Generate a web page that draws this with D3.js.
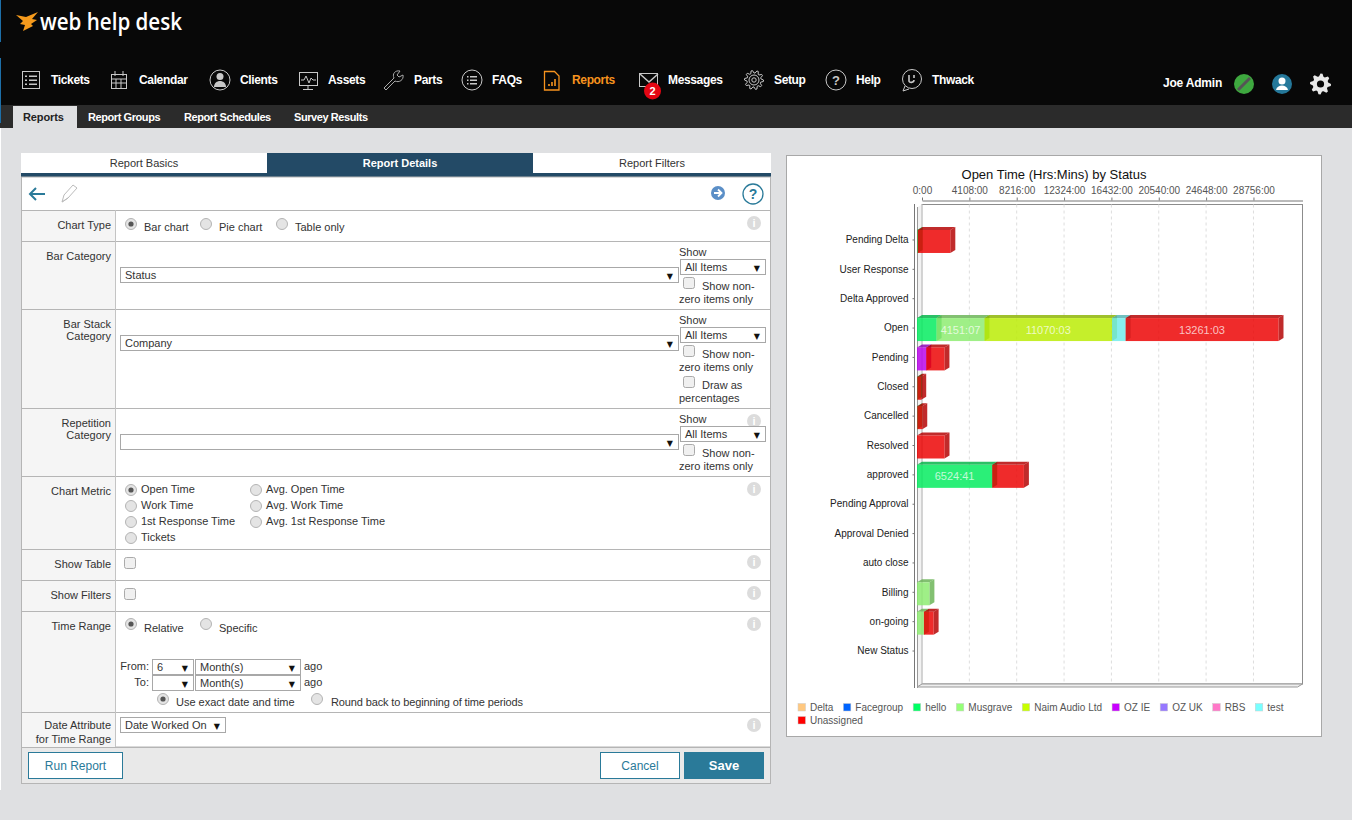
<!DOCTYPE html>
<html><head><meta charset="utf-8">
<script src="https://cdn.jsdelivr.net/npm/d3@7"></script>
<style>html,body{margin:0;padding:0;background:#dfe0e2;overflow:hidden}svg{display:block}text{font-family:"Liberation Sans",Arial,sans-serif}</style>
</head><body><svg id="s" width="1352" height="820"></svg>
<script>
// ---------- chart data (hours) ----------
const categories=["Pending Delta","User Response","Delta Approved","Open","Pending","Closed","Cancelled","Resolved","approved","Pending Approval","Approval Denied","auto close","Billing","on-going","New Status"];
const seriesNames=["Delta","Facegroup","hello","Musgrave","Naim Audio Ltd","OZ IE","OZ UK","RBS","test","Unassigned"];
const seriesColors=["#ffc880","#0064ff","#00ff64","#96ff78","#c8ff00","#c800ff","#9678ff","#ff78c8","#78ffff","#ff0000"];
const deltaValues=     [0,0,0,0,0,0,0,0,0,0,0,0,0,0,0];
const facegroupValues= [0,0,0,0,0,0,0,0,0,0,0,0,0,0,0];
const helloValues=     [60,0,0,1700,0,25,25,0,6524.68,0,0,0,0,0,0];
const musgraveValues=  [0,0,0,4151.12,0,0,0,0,0,0,0,0,1075,600,0];
const naimValues=      [0,0,0,11070.05,0,0,0,0,0,0,0,0,0,0,0];
const ozIeValues=      [0,0,0,0,800,0,0,0,0,0,0,0,0,0,0];
const ozUkValues=      [0,0,0,0,0,0,0,0,0,0,0,0,0,0,0];
const rbsValues=       [0,0,0,0,0,0,0,0,0,0,0,0,0,0,0];
const testValues=      [0,0,0,1180,0,0,0,0,0,0,0,0,0,0,0];
const unassignedValues=[2830,0,0,13261.05,1580,340,430,2385,2750,0,0,0,0,840,0];
const seriesValues=[deltaValues,facegroupValues,helloValues,musgraveValues,naimValues,ozIeValues,ozUkValues,rbsValues,testValues,unassignedValues];
const tickHours=[0,4108,8216,12324,16432,20540,24648,28756];
const chartTitle="Open Time (Hrs:Mins) by Status";

const svg=d3.select("#s");
const FS=11;
function R(x,y,w,h,f,st){return svg.append("rect").attr("x",x).attr("y",y).attr("width",w).attr("height",h).attr("fill",f||"none").attr("stroke",st||"none")}
function T(x,y,t,o={}){return svg.append("text").attr("x",x).attr("y",y).text(t).attr("font-size",o.s||FS).attr("font-weight",o.w||"normal").attr("fill",o.c||"#333").attr("text-anchor",o.a||"start").attr("letter-spacing",o.ls||null).style("font-family",o.f||null)}
function P(d,f,st,sw){return svg.append("path").attr("d",d).attr("fill",f||"none").attr("stroke",st||"none").attr("stroke-width",sw||1)}
function C(x,y,r,f,st,sw){return svg.append("circle").attr("cx",x).attr("cy",y).attr("r",r).attr("fill",f||"none").attr("stroke",st||"none").attr("stroke-width",sw||1)}
function gear(cx,cy,r,n,f,st){const pts=[];for(let i=0;i<n*4;i++){const a=i/(n*4)*2*Math.PI,q=i%4,rr=(q<2)?r:r*.74;pts.push([cx+rr*Math.cos(a),cy+rr*Math.sin(a)])}P("M"+pts.join("L")+"Z",f,st)}

// ---------- header ----------
R(0,0,1352,105,"#080808");R(0,105,1352,23,"#2b2b2b");
R(0,0,1,42,"#1d6fa8");R(0,58,1,65,"#1d6fa8");R(0,128,1,662,"#fff");
P("M16 15L26 17L38 12L32 19L37 20L31 24L33 26L23 31L25 25L20 24L23 21Z","#f59a1c");
T(40,30,"web help desk",{s:22.5,c:"#fff",w:600,f:"'Open Sans'"}).attr("textLength",142).attr("lengthAdjust","spacingAndGlyphs");
const ic="#c8c8c8";
[["Tickets",51],["Calendar",139],["Clients",240],["Assets",328],["Parts",414],["FAQs",492],["Reports",572],["Messages",668],["Setup",774],["Help",856],["Thwack",932]].forEach(([t,x])=>T(x,84,t,{s:12,w:"bold",c:t=="Reports"?"#f7931e":"#fff",ls:-.35}));
R(22.5,71.5,17,17,null,ic);[76,80,84].forEach(y=>{R(25,y-.5,2,1.5,ic);R(29,y-.5,8,1.5,ic)});
R(111.5,74.5,15,14,null,ic);P("M115 71v5M123 71v5M112 79h14M112 83h14M116 79v9M121 79v9",null,ic);
C(220,80,10,null,ic);C(220,76.5,3.5,ic);P("M214 87c0-8 12-8 12 0Z",ic);
R(299.5,72.5,18,13,null,ic);P("M301 80l3 0 2-4 3 7 2-5 2 2 3 0M308 86v3M303 89.5h10",null,ic);
P("M386 90l-2-2 10-10c-2-4 1-8 6-7l-3 4 2 2 4-2c1 5-4 8-8 6Z",null,"#aaa");
C(472,80,10,null,ic);[76.5,80,83.5].forEach(y=>{R(467,y-.5,1.5,1.5,ic);R(470,y-.5,7,1.5,ic)});
P("M544.5 71.5h10l4.5 4.5v14h-14.5Z",null,"#f7931e",1.3);P("M549 86v-2M552 86v-4M555 86v-7",null,"#f7931e",1.6);
R(639.5,73.5,18,13,null,ic);P("M640 74l9 8 9-8",null,ic,1.5);
C(652.5,91,8.5,"#e30613");T(652.5,95,"2",{s:11,w:"bold",c:"#fff",a:"middle"});
gear(754,80,9.5,10,"#080808",ic);C(754,80,5,null,ic);C(754,80,2.2,null,ic);
C(836,80,10,null,ic);T(836,85,"?",{s:13,w:"bold",c:ic,a:"middle"});
C(912,79,9.5,null,ic);P("M905 86l-2 5 6-2",null,ic);P("M909 75v6c0 2 5 2 5-1M914 75v3",null,ic,1.6);
T(1163,87,"Joe Admin",{s:12,w:"bold",c:"#fff",ls:-.2});
C(1244,84,10,"#3ea83f");P("M1238 90l12-12",null,"#555",3);
C(1282,84,10,"#25789a");C(1282,81,3.5,"#fff");P("M1276 90c1-6 11-6 12 0Z","#fff");
gear(1320.5,84,10.5,8,"#e8e8e8");C(1320.5,84,3.6,"#080808");
R(13,106,64,22,"#dfe0e2");
T(23,121,"Reports",{w:"bold",c:"#222",ls:-.1});
[["Report Groups",88],["Report Schedules",184],["Survey Results",294]].forEach(([t,x])=>T(x,121,t,{w:"bold",c:"#fff",ls:-.42}));

// ---------- form panel ----------
R(21,153,246,20,"#fff");R(533,153,238,20,"#fff");R(267,153,266,20,"#234a66");R(21,173,750,4,"#234a66");
T(144,167,"Report Basics",{a:"middle"});T(400,167,"Report Details",{a:"middle",w:"bold",c:"#fff"});T(652,167,"Report Filters",{a:"middle"});
R(21.5,177,749,570,"#fff","#b5b5b5");R(22,210,93,537,"#f5f5f5");
[210,241,309,408,476,549,580,611,712,747].forEach(y=>P(`M21 ${y+.5}H771`,null,"#b5b5b5"));
P("M115.5 210V747",null,"#c4c4c4");
P("M30 194H45M36 188l-6 6 6 6",null,"#2a7a99",2);
P("M62 202l2-7 9-10 4 3-9 10Z M62 202l6-4",null,"#bbb");
C(718,193,7,"#5b8fc7");P("M714 193h7M718 189.5l3.5 3.5-3.5 3.5",null,"#fff",1.8);
C(753,194,10,"#fff","#2a7a99",1.3);T(753,199,"?",{s:14,w:"bold",c:"#2a7a99",a:"middle"});
const info=y=>{C(754,y,7,"#dcdcdc");T(754,y+4,"i",{s:11,w:"bold",c:"#fff",a:"middle"})};
[223,421,489,562,593,624,725].forEach(info);
const lab=(y,t)=>T(111,y,t,{a:"end"});
lab(229,"Chart Type");lab(260,"Bar Category");lab(328,"Bar Stack");lab(340,"Category");lab(427,"Repetition");lab(439,"Category");lab(495,"Chart Metric");lab(568,"Show Table");lab(599,"Show Filters");lab(630,"Time Range");lab(729,"Date Attribute");lab(743,"for Time Range");
function radio(x,y,on){C(x,y,5.5,"#e4e4e4","#b4b4b4");if(on)C(x,y,2.6,"#555")}
function check(x,y){svg.append("rect").attr("x",x+.5).attr("y",y+.5).attr("width",11).attr("height",11).attr("rx",2).attr("fill","#f0f0f0").attr("stroke","#aaa")}
function sel(x,y,w,h,t){R(x+.5,y+.5,w,h,"#fff","#a8a8a8");if(t)T(x+5,y+h/2+4,t);T(x+w-5,y+h/2+4,"▼",{s:8,c:"#111",a:"end",f:"'DejaVu Sans'"})}
radio(131,224,1);T(144,231,"Bar chart");radio(206,224);T(219,231,"Pie chart");radio(282,224);T(295,231,"Table only");
function showBlock(y){T(679,y+4,"Show");sel(680,y+7,85,15,"All Items");check(683,y+25);T(702,y+38,"Show non-");T(679,y+51,"zero items only")}
sel(120,267,558,15,"Status");showBlock(252);
sel(120,335,558,15,"Company");showBlock(320);check(683,376);T(702,389,"Draw as");T(679,402,"percentages");
sel(120,434,558,15,"");showBlock(419);
[["Open Time",490,1],["Work Time",506],["1st Response Time",522],["Tickets",538]].forEach(([t,y,on])=>{radio(131,y,on);T(141,y+3,t)});
[["Avg. Open Time",490],["Avg. Work Time",506],["Avg. 1st Response Time",522]].forEach(([t,y])=>{radio(256,y);T(266,y+3,t)});
check(124,557);check(124,588);
radio(131,624,1);T(144,632,"Relative");radio(206,624);T(219,632,"Specific");
T(149,670,"From:",{a:"end"});sel(152,659,41,15,"6");sel(195,659,105,15,"Month(s)");T(304,670,"ago");
T(149,686,"To:",{a:"end"});sel(152,675,41,15,"");sel(195,675,105,15,"Month(s)");T(304,686,"ago");
radio(163,699,1);T(176,706,"Use exact date and time");radio(317,699);T(331,706,"Round back to beginning of time periods",{ls:-.13});
sel(120,717,105,15,"Date Worked On");
R(21.5,747.5,749,36,"#e9e9e9","#b5b5b5");
R(28.5,752.5,94,26,"#fff","#2a7a99");T(75.5,770,"Run Report",{s:12,c:"#2a7a99",a:"middle"});
R(600.5,752.5,79,26,"#fff","#2a7a99");T(640,770,"Cancel",{s:12,c:"#2a7a99",a:"middle"});
R(684,752,80,27,"#2a7a99");T(724,770,"Save",{s:13,w:"bold",c:"#fff",a:"middle"});

// ---------- chart ----------
R(786.5,155.5,535,581,"#fff","#a8a8a8");
const dx=5,dy=3;
const x=d3.scaleLinear().domain([0,33011]).range([922,1302.5]);
const y=d3.scaleBand().domain(categories).range([226.8,667.2]).paddingInner(.217).paddingOuter(.1085);
const plotTop=204.5,plotBot=684;
T(1054,179,chartTitle,{s:13,c:"#111",a:"middle"});
const g=svg.append("g");
// walls
g.append("path").attr("d",`M917 ${plotTop+3}L922 ${plotTop}V${plotBot}L917 ${plotBot+3}Z`).attr("fill","#f2f2f2");
g.append("rect").attr("x",922).attr("y",plotTop).attr("width",380.5).attr("height",plotBot-plotTop).attr("fill","#fff").attr("stroke","#8c8c8c");
g.append("line").attr("x1",922).attr("x2",922).attr("y1",plotTop).attr("y2",plotBot).attr("stroke","#e4e4e4");
g.append("path").attr("d",`M917 ${plotBot+3}L922 ${plotBot}H1302.5L1297.5 ${plotBot+3}Z`).attr("fill","#eee").attr("stroke","#999");
// grid
g.selectAll("line.grid").data(tickHours.slice(1)).join("line").attr("class","grid")
 .attr("x1",d=>x(d)).attr("x2",d=>x(d)).attr("y1",plotTop).attr("y2",plotBot)
 .attr("stroke","#ddd").attr("stroke-dasharray","3 3");
// top axis
const axT=d3.axisTop(x).tickValues(tickHours).tickFormat(d=>d+":00").tickSize(3).tickSizeOuter(0);
const gt=svg.append("g").attr("transform","translate(0,200.5)").call(axT);
gt.selectAll("text").attr("font-size",10).attr("fill","#555").attr("dy","-0.1em").style("font-family","'Liberation Sans'");
gt.selectAll("line").attr("stroke","#777");gt.select(".domain").attr("stroke","#777");
// left axis
const axL=d3.axisLeft(y).tickSize(2).tickPadding(4).tickSizeOuter(0);
const gl=svg.append("g").attr("transform","translate(914.5,-1.5)").call(axL);
gl.select(".domain").remove();
gl.selectAll("text").attr("font-size",10).attr("fill","#222").style("font-family","'Liberation Sans'");
gl.selectAll("line").attr("stroke","#777");
svg.append("line").attr("x1",914.5).attr("x2",914.5).attr("y1",204).attr("y2",688).attr("stroke","#777");
svg.append("line").attr("x1",917.5).attr("x2",917.5).attr("y1",207).attr("y2",688).attr("stroke","#999");
// stacked 3D bars
const rows=categories.map((c,i)=>{const o={cat:c};seriesNames.forEach((s,j)=>o[s]=seriesValues[j][i]);return o});
const stacked=d3.stack().keys(seriesNames)(rows);
const fmt=h=>{const H=Math.floor(h),M=Math.round((h-H)*60);return H+":"+String(M).padStart(2,"0")};
const bars=svg.append("g");
stacked.forEach((layer,si)=>{
  const base=d3.rgb(seriesColors[si]),front=base.darker(.215).formatRgb(),dark=base.darker(1).formatRgb();
  const sg=bars.append("g");
  layer.forEach(d=>{
    const v=d[1]-d[0];if(v<=0)return;
    const x0=x(d[0])-dx,x1=x(d[1])-dx,yt=y(d.data.cat),yb=yt+y.bandwidth();
    sg.append("path").attr("d",`M${x0} ${yt}L${x0+dx} ${yt-dy}H${x1+dx}L${x1} ${yt}Z`).attr("fill",dark).attr("fill-opacity",.83);
    sg.append("path").attr("d",`M${x1} ${yt}L${x1+dx} ${yt-dy}V${yb-dy}L${x1} ${yb}Z`).attr("fill",dark).attr("fill-opacity",.83);
    sg.append("rect").attr("x",x0).attr("y",yt).attr("width",x1-x0).attr("height",yb-yt).attr("fill",front).attr("fill-opacity",.83);
    if(v>4000)sg.append("text").attr("x",(x0+x1)/2).attr("y",(yt+yb)/2+4).attr("text-anchor","middle").attr("font-size",11).attr("fill","#fff").attr("fill-opacity",.72).text(fmt(v));
  });
});
// legend
const lg=svg.append("g");let lx=798,ly=707;
seriesNames.forEach((s,i)=>{
  const t=lg.append("text").attr("y",ly+3.5).attr("font-size",10).attr("fill","#555").text(s);
  const w=t.node().getComputedTextLength();
  if(lx+12+w>1300){lx=798;ly+=13;t.attr("y",ly+3.5)}
  t.attr("x",lx+12);
  lg.append("rect").attr("x",lx).attr("y",ly-3.5).attr("width",7.5).attr("height",7.5).attr("fill",seriesColors[i]).attr("stroke","#ccc").attr("stroke-width",.5);
  lx+=12+w+10;
});
</script></body></html>
